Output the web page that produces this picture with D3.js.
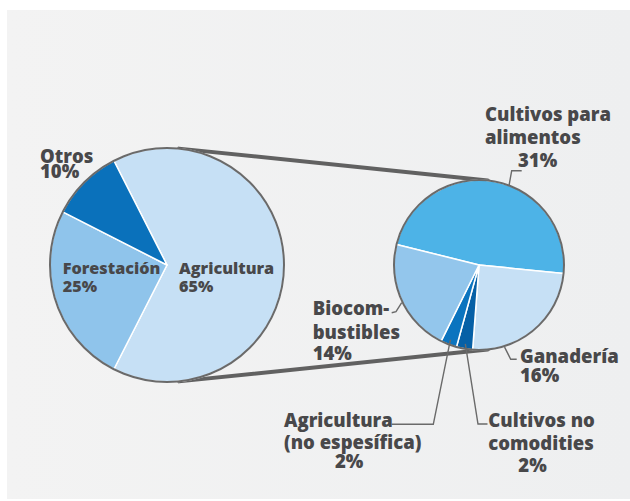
<!DOCTYPE html>
<html>
<head>
<meta charset="utf-8">
<script src="https://cdn.jsdelivr.net/npm/d3@7"></script>
<style>
  html, body { margin: 0; padding: 0; background: #ffffff; }
  svg { display: block; }
  text { font-family: "Open Sans", "Noto Sans", sans-serif; font-weight: 800; fill: #48484a; }
</style>
</head>
<body>
<svg id="chart" width="630" height="501"></svg>
<script>
// Land use overview (share of total)
const overviewLabels = ["Agricultura", "Forestación", "Otros"];
const overviewValues = [65, 25, 10];

// Breakdown of the agriculture share
const detailLabels = ["Cultivos para alimentos", "Ganadería", "Cultivos no comodities",
                      "Agricultura (no espesífica)", "Biocombustibles"];
const detailValues = [31, 16, 2, 2, 14];

const W = 630, H = 501;
const deg = Math.PI / 180;

const overviewColors = d3.scaleOrdinal().domain(overviewLabels)
  .range(["#c6e0f5", "#8fc4eb", "#0a71bb"]);
const detailColors = d3.scaleOrdinal().domain(detailLabels)
  .range(["#4db3e7", "#c6e0f5", "#0660a6", "#0b74bf", "#93c6ec"]);

const big = { cx: 167, cy: 265, r: 117, start: -27 * deg };
const small = { cx: 479, cy: 265, r: 85, start: -76 * deg };

const svg = d3.select("#chart");

// panel background
const defs = svg.append("defs");
const grad = defs.append("linearGradient").attr("id", "bg").attr("x1", 0).attr("x2", 1).attr("y1", 0).attr("y2", 0);
grad.append("stop").attr("offset", "0%").attr("stop-color", "#f3f3f3");
grad.append("stop").attr("offset", "100%").attr("stop-color", "#eeeff0");
svg.append("rect").attr("x", 7).attr("y", 10).attr("width", W - 7).attr("height", 489)
  .attr("fill", "url(#bg)");

// connector lines: outer tangents between the two circles
const dist = small.cx - big.cx;
const sinT = (big.r - small.r) / dist, cosT = Math.sqrt(1 - sinT * sinT);
[-1, 1].forEach(side => {
  svg.append("line")
    .attr("x1", big.cx + big.r * sinT).attr("y1", big.cy + side * big.r * cosT)
    .attr("x2", small.cx + small.r * sinT).attr("y2", small.cy + side * small.r * cosT)
    .attr("stroke", "#616161").attr("stroke-width", 4).attr("stroke-linecap", "round");
});

function drawPie(labels, values, colors, spec) {
  const pie = d3.pie().sort(null).startAngle(spec.start).endAngle(spec.start + 2 * Math.PI);
  const arc = d3.arc().innerRadius(0).outerRadius(spec.r);
  const grp = svg.append("g").attr("transform", `translate(${spec.cx},${spec.cy})`);
  const arcs = pie(values).map((a, i) => Object.assign(a, { label: labels[i] }));
  grp.selectAll("path.slice").data(arcs).join("path")
    .attr("class", "slice")
    .attr("d", arc)
    .attr("fill", d => colors(d.label))
    .attr("stroke", "#ffffff").attr("stroke-width", 1.5).attr("stroke-linejoin", "round");
  grp.append("circle").attr("r", spec.r).attr("fill", "none")
    .attr("stroke", "#6a6a6a").attr("stroke-width", 2);
  return arcs;
}

const bigArcs = drawPie(overviewLabels, overviewValues, overviewColors, big);
const smallArcs = drawPie(detailLabels, detailValues, detailColors, small);

// label layout ("%" stands for the slice value)
const labelLayout = {
  "Otros":       { size: 18.5, lines: [["Otros", 40, 162.7], ["%", 40, 178]] },
  "Forestación": { size: 16.2, lines: [["Forestación", 62.7, 274], ["%", 62.7, 291.7]] },
  "Agricultura": { size: 16.2, lines: [["Agricultura", 179, 274], ["%", 179, 291.7]] },
  "Cultivos para alimentos": { size: 18.5, lines: [["Cultivos para", 485, 120.5], ["alimentos", 485, 143.5], ["%", 518, 166.5]],
      leader: { angle: 20.7, r: 85, pts: [[511.7, 170.7], [521.7, 170.7]] } },
  "Ganadería": { size: 18.5, lines: [["Ganadería", 520, 363.3], ["%", 520, 382]],
      leader: { angle: 162.7, r: 86, pts: [[510.7, 359.3], [516.7, 359.3]] } },
  "Biocombustibles": { size: 18.5, lines: [["Biocom-", 312.7, 315], ["bustibles", 312.7, 339], ["%", 312.7, 359.5]],
      leader: { angle: 244, r: 86, pts: [[396, 311.7], [391.7, 312.7]] } },
  "Agricultura (no espesífica)": { size: 18.5, lines: [["Agricultura", 284, 426.7], ["(no espesífica)", 284, 449.3], ["%", 335, 468]],
      leader: { angle: null, r: 80, pts: [[433.3, 424.3], [391.7, 424.3]] } },
  "Cultivos no comodities": { size: 18.5, lines: [["Cultivos no", 488.3, 426.7], ["comodities", 488.3, 450], ["%", 518.3, 471.7]],
      leader: { angle: null, r: 80, pts: [[478, 424], [487.5, 424]] } }
};

function drawLabels(arcs, spec) {
  arcs.forEach(a => {
    const lay = labelLayout[a.label];
    if (!lay) return;
    if (lay.leader) {
      const ang = lay.leader.angle === null ? (a.startAngle + a.endAngle) / 2 : lay.leader.angle * deg;
      const start = [spec.cx + lay.leader.r * Math.sin(ang), spec.cy - lay.leader.r * Math.cos(ang)];
      svg.append("path")
        .attr("d", d3.line()([start, ...lay.leader.pts]))
        .attr("fill", "none").attr("stroke", "#6a6a6a").attr("stroke-width", 1.4);
    }
    lay.lines.forEach(([t, x, y]) => {
      svg.append("text").attr("x", x).attr("y", y).attr("font-size", lay.size)
        .text(t === "%" ? a.value + "%" : t);
    });
  });
}
drawLabels(bigArcs, big);
drawLabels(smallArcs, small);
</script>
</body>
</html>
